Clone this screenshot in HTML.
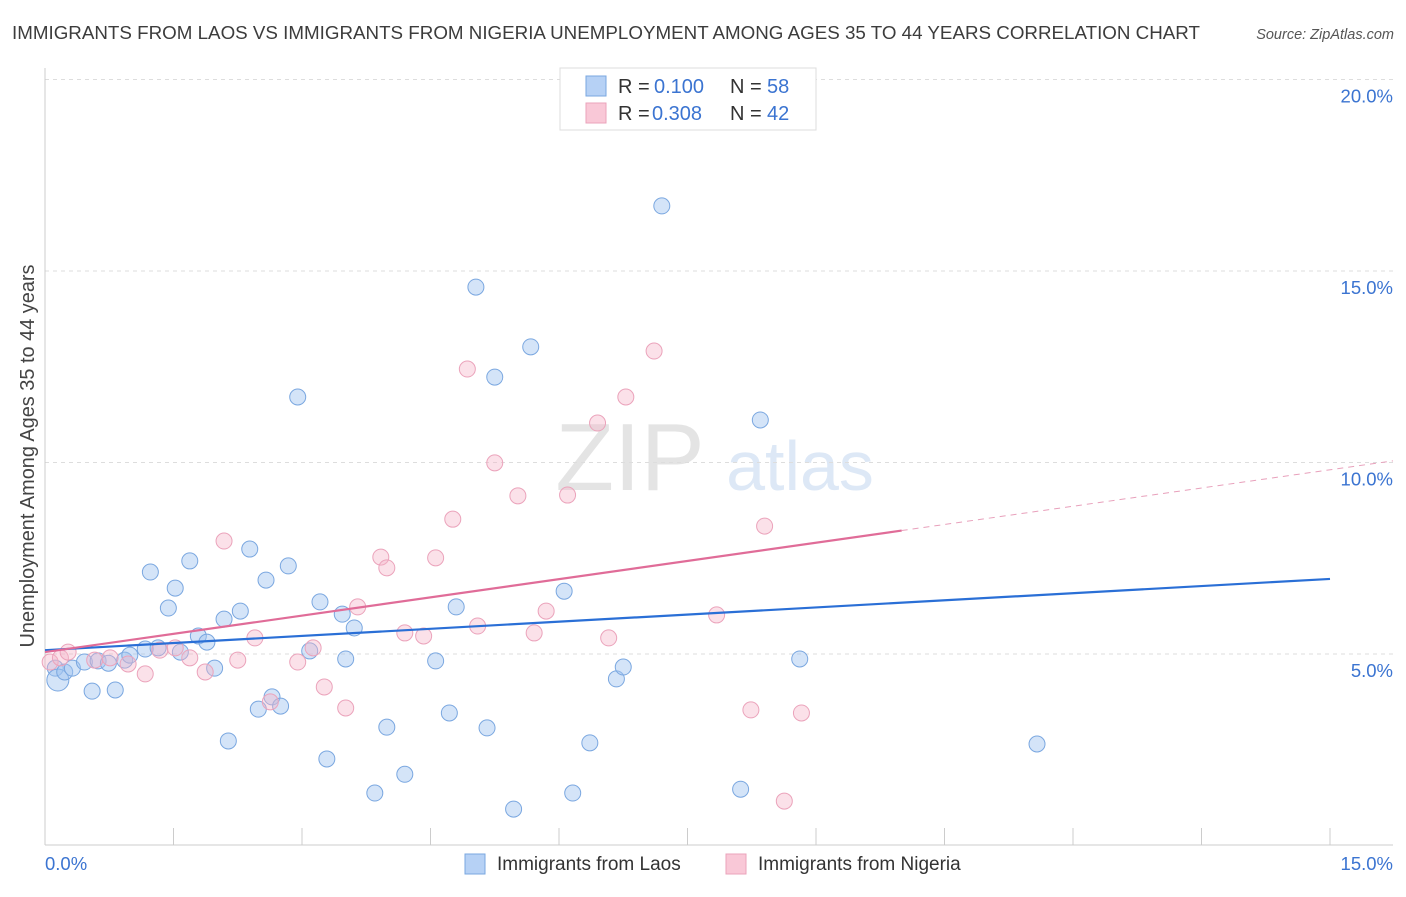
<!DOCTYPE html>
<html><head><meta charset="utf-8"><style>
body{margin:0;background:#fff;font-family:"Liberation Sans",Arial,sans-serif}
svg text{font-family:"Liberation Sans",Arial,sans-serif}
</style></head><body>
<svg id="chart" width="1406" height="892" xmlns="http://www.w3.org/2000/svg">
<text x="12" y="39" font-size="18.5" fill="#3c3c3c" textLength="1188" lengthAdjust="spacingAndGlyphs">IMMIGRANTS FROM LAOS VS IMMIGRANTS FROM NIGERIA UNEMPLOYMENT AMONG AGES 35 TO 44 YEARS CORRELATION CHART</text>
<text x="1394" y="39" font-size="14.5" fill="#555" font-style="italic" text-anchor="end">Source: ZipAtlas.com</text>
<text x="630" y="490" font-size="96" fill="#e4e4e4" font-family="Liberation Serif" text-anchor="middle">ZIP</text>
<text x="800" y="490" font-size="70" fill="#dde8f6" text-anchor="middle">atlas</text>
<text transform="translate(34,456) rotate(-90)" font-size="20" fill="#444" text-anchor="middle" textLength="383" lengthAdjust="spacingAndGlyphs">Unemployment Among Ages 35 to 44 years</text>
<g id="grid"></g><g id="marks"></g>
<g>
<rect x="560" y="68" width="256" height="62" fill="#fff" stroke="#ddd"/>
<rect x="586" y="76" width="20" height="20" fill="#b6d1f5" stroke="#7aa7e0"/>
<rect x="586" y="103" width="20" height="20" fill="#f9c8d7" stroke="#eba3bb"/>
<text x="618" y="93" font-size="20" fill="#333">R =</text>
<text x="654" y="93" font-size="20" fill="#3b74d1">0.100</text>
<text x="730" y="93" font-size="20" fill="#333">N =</text>
<text x="767" y="93" font-size="20" fill="#3b74d1">58</text>
<text x="618" y="120" font-size="20" fill="#333">R =</text>
<text x="652" y="120" font-size="20" fill="#3b74d1">0.308</text>
<text x="730" y="120" font-size="20" fill="#333">N =</text>
<text x="767" y="120" font-size="20" fill="#3b74d1">42</text>
</g>
<g>
<rect x="465" y="854" width="20" height="20" fill="#b6d1f5" stroke="#7aa7e0"/>
<text x="497" y="870" font-size="19" fill="#333">Immigrants from Laos</text>
<rect x="726" y="854" width="20" height="20" fill="#f9c8d7" stroke="#eba3bb"/>
<text x="758" y="870" font-size="19" fill="#333">Immigrants from Nigeria</text>
</g>
</svg>
<script>
const yTicks=[5,10,15,20];
const yTickLabels=["5.0%","10.0%","15.0%","20.0%"];
const xTicks=[0,1.5,3,4.5,6,7.5,9,10.5,12,13.5,15];
const laosX=[0.12,0.15,0.23,0.32,0.46,0.55,0.62,0.74,0.82,0.93,0.99,1.17,1.23,1.32,1.44,1.52,1.58,1.69,1.79,1.89,1.98,2.09,2.14,2.28,2.39,2.49,2.58,2.65,2.75,2.84,2.95,3.09,3.21,3.29,3.47,3.51,3.61,3.85,3.99,4.20,4.56,4.72,4.80,5.03,5.16,5.25,5.47,5.67,6.06,6.16,6.36,6.67,6.75,7.20,8.12,8.35,8.81,11.58];
const laosY=[4.63,4.32,4.53,4.63,4.79,4.03,4.82,4.76,4.06,4.84,4.97,5.13,7.14,5.16,6.20,6.72,5.05,7.43,5.47,5.31,4.63,5.91,2.73,6.12,7.74,3.56,6.93,3.88,3.64,7.30,11.71,5.08,6.36,2.26,6.04,4.87,5.68,1.37,3.09,1.86,4.82,3.46,6.23,14.58,3.07,12.23,0.95,13.02,6.64,1.37,2.68,4.35,4.66,16.70,1.47,11.11,4.87,2.65];
const nigX=[0.06,0.18,0.27,0.58,0.76,0.97,1.17,1.34,1.52,1.69,1.87,2.09,2.25,2.45,2.63,2.95,3.13,3.26,3.51,3.65,3.92,3.99,4.20,4.42,4.56,4.76,4.93,5.05,5.25,5.52,5.71,5.85,6.10,6.45,6.58,6.78,7.11,7.84,8.24,8.40,8.63,8.83];
const nigY=[4.79,4.90,5.05,4.84,4.90,4.74,4.48,5.10,5.16,4.90,4.53,7.95,4.84,5.42,3.75,4.79,5.16,4.14,3.59,6.23,7.53,7.25,5.55,5.47,7.51,8.52,12.44,5.73,9.99,9.13,5.55,6.12,9.15,11.03,5.42,11.71,12.91,6.02,3.54,8.34,1.16,3.46];
const laosLine=[5.10,6.96];
const nigLine=[5.05,9.81];
const nigSolidEnd=10.0;
const NS="http://www.w3.org/2000/svg";
const X=v=>45+v*(1330-45)/15, Y=v=>845.5-v*38.3;
function mk(p,t,a){const e=document.createElementNS(NS,t);for(const k in a)e.setAttribute(k,a[k]);p.appendChild(e);return e;}
const g=document.getElementById('grid'),m=document.getElementById('marks');
yTicks.forEach((t,i)=>{const l=mk(g,'line',{x1:45,x2:1393,y1:Y(t),y2:Y(t),stroke:'#ddd','stroke-dasharray':'4,4'});

const tx=mk(g,'text',{x:1393,y:Y(t)+23,'font-size':18.5,fill:'#3b74d1','text-anchor':'end'});tx.textContent=yTickLabels[i];
});
const ax=mk(g,'line',{x1:45,x2:1393,y1:845,y2:845,stroke:'#ccc'});
const ay=mk(g,'line',{x1:45,x2:45,y1:68,y2:845,stroke:'#ccc'});
xTicks.forEach(t=>{const l=mk(g,'line',{x1:X(t),x2:X(t),y1:828,y2:845,stroke:'#ccc'});});
[[0,'0.0%','start',45],[15,'15.0%','end',1393]].forEach(a=>{const t=mk(g,'text',{x:a[3],y:870,'font-size':18.5,fill:'#3b74d1','text-anchor':a[2]});t.textContent=a[1];
});
laosX.forEach((x,i)=>{const c=mk(m,'circle',{cx:X(x),cy:Y(laosY[i]),r:i==1?11:8,fill:'rgba(160,196,240,0.45)',stroke:'#7aa7e0','stroke-width':1});
});
nigX.forEach((x,i)=>{const c=mk(m,'circle',{cx:X(x),cy:Y(nigY[i]),r:8,fill:'rgba(245,180,200,0.4)',stroke:'#eba3bb','stroke-width':1});
});
const bl=mk(m,'line',{x1:X(0),y1:Y(laosLine[0]),x2:X(15),y2:Y(laosLine[1]),stroke:'#2a6fd6','stroke-width':2.2});

const ny=x=>nigLine[0]+(nigLine[1]-nigLine[0])*x/15;
const pl=mk(m,'line',{x1:X(0),y1:Y(ny(0)),x2:X(nigSolidEnd),y2:Y(ny(nigSolidEnd)),stroke:'#e06c98','stroke-width':2.2});

const pd=mk(m,'line',{x1:X(nigSolidEnd),y1:Y(ny(nigSolidEnd)),x2:1393,y2:Y(ny((1393-45)*15/1285)),stroke:'#e8a0bb','stroke-width':1,'stroke-dasharray':'6,5'});

</script>
</body></html>
